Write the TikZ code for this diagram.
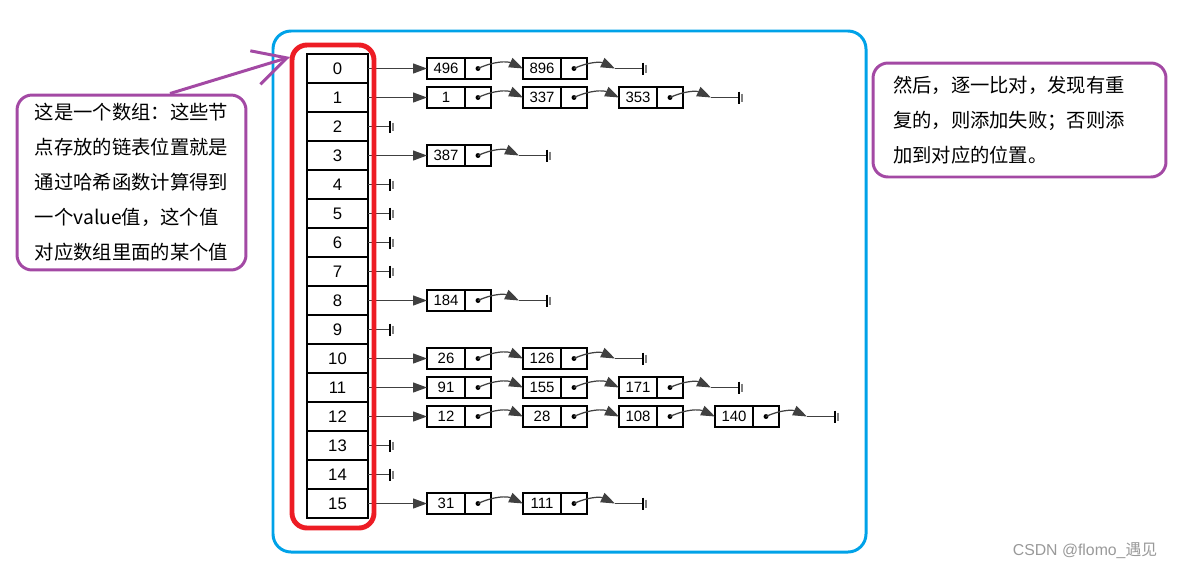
\documentclass[tikz,border=0pt]{standalone}
\usepackage{fontspec}
\setmainfont{Liberation Sans}
\newfontfamily\cjk{Noto Sans CJK SC}
\usetikzlibrary{arrows.meta}
\usetikzlibrary{calc}

\definecolor{boxblue}{RGB}{0,162,232}
\definecolor{boxred}{RGB}{237,28,36}
\definecolor{notepurple}{RGB}{163,73,164}

\tikzset{
  cell/.style={draw, minimum width=1.22cm, minimum height=0.58cm, inner sep=0pt, outer sep=0pt, font=\fontsize{9.5}{11}\selectfont},
  val/.style={draw, minimum width=0.76cm, minimum height=0.42cm, inner sep=0pt, outer sep=0pt, font=\fontsize{8.5}{9}\selectfont},
  ptr/.style={draw, minimum width=0.52cm, minimum height=0.42cm, inner sep=0pt, outer sep=0pt},
  link/.style={-{Triangle[length=2.8mm,width=2mm]}, black!75, line width=0.7pt},
  note/.style={draw=notepurple, line width=1.7pt, rounded corners=0.3cm, align=left, font=\cjk\fontsize{11}{19.9}\selectfont},
  nullbar/.pic={\draw (0,-6) -- (0,6); \draw[gray, line width=1.2pt] (3,-4) -- (3,4);}
}

\begin{document}
\begin{tikzpicture}[x=0.02cm, y=-0.02cm, line width=0.6pt]
  \useasboundingbox (0,0) rectangle (1177,569);

  \draw[boxblue, line width=1.7pt, rounded corners=0.36cm] (273,31) rectangle (866,552);

  % hash table slots
  \foreach \r in {0,...,15}
    \node[cell] (c\r) at (337.5, 68.5+29*\r) {\r};

  % empty slots
  \foreach \r in {2,4,5,6,7,9,13,14} {
    \coordinate (z\r) at ($(c\r.east)+(22,0)$);
    \draw[black!75] (c\r.east) -- (z\r);
    \pic at (z\r) {nullbar};
  }

  % chains: row / last index / values
  \foreach \r/\n/\vals in {0/1/{496,896}, 1/2/{1,337,353}, 3/0/{387}, 8/0/{184},
      10/1/{26,126}, 11/2/{91,155,171}, 12/3/{12,28,108,140}, 15/1/{31,111}} {
    \foreach \v [count=\k from 0] in \vals {
      \node[val] (v\r-\k) at (446+96*\k, 68.5+29*\r) {\v};
      \node[ptr, anchor=west] (p\r-\k) at (v\r-\k.east) {};
      \fill (p\r-\k.center) circle (1.4pt);
      \ifnum\k>0
        \pgfmathtruncatemacro\j{\k-1}
        \draw[link] (p\r-\j.center) to[bend left=25] (v\r-\k.west);
      \fi
    }
    \draw[link] (c\r.east) -- (v\r-0.west);
    \coordinate (t\r) at ($(p\r-\n.center)+(41,0)$);
    \coordinate (e\r) at ($(p\r-\n.center)+(69,0)$);
    \draw[link] (p\r-\n.center) to[bend left=25] (t\r);
    \draw[black!75] (t\r) -- (e\r);
    \pic at (e\r) {nullbar};
  }

  \draw[boxred, line width=2.8pt, rounded corners=0.3cm] (292,45) rectangle (374,528);

  % notes
  \node[note, minimum width=4.58cm, minimum height=3.5cm] (arraynote) at (131.5,182.5)
    {这是一个数组：这些节\\点存放的链表位置就是\\通过哈希函数计算得到\\一个value值，这个值\\对应数组里面的某个值};
  \node[note, minimum width=5.86cm, minimum height=2.28cm, text width=5.06cm] (resultnote) at (1019.5,120)
    {然后，逐一比对，发现有重\\复的，则添加失败；否则添\\加到对应的位置。};

  \coordinate (arraytip) at (290,57);
  \draw[notepurple, line width=1.7pt, -{Straight Barb[length=0.66cm,width=0.7cm]}] ([xshift=0.77cm]arraynote.north) -- (arraytip);

  \node[text=gray!80, font=\fontsize{9}{10}\selectfont] (mark) at (1085,551) {CSDN @flomo\_{\cjk 遇见}};
\end{tikzpicture}
\end{document}
